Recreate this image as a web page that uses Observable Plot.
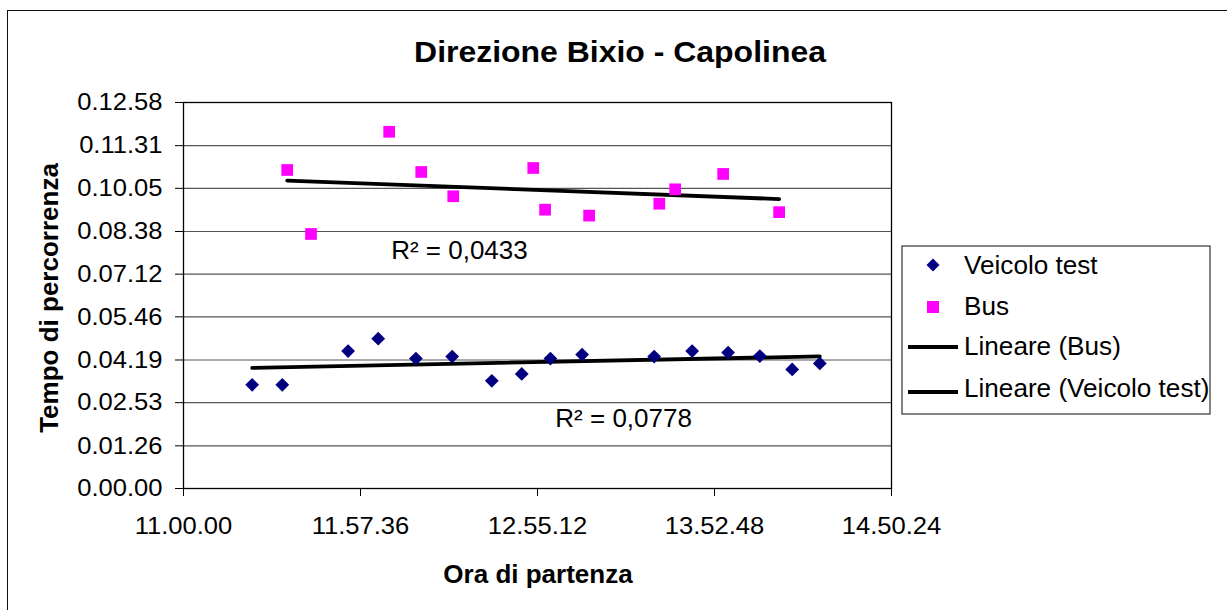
<!DOCTYPE html>
<html>
<head>
<meta charset="utf-8">
<script src="https://cdn.jsdelivr.net/npm/d3@7"></script>
<script src="https://cdn.jsdelivr.net/npm/@observablehq/plot@0.6"></script>
<style>
  html, body { margin: 0; padding: 0; background: #fff; overflow: hidden; }
  #wrap { position: relative; width: 1227px; height: 610px; }
  #frame { position: absolute; left: 7px; top: 10px; width: 1400px; height: 800px; border: 1.5px solid #111; box-sizing: border-box; }
  #wrap svg { position: absolute; left: 0; top: 0; }
</style>
</head>
<body>
<div id="wrap"><div id="frame"></div></div>
<script>
// ---- Data ----
const chartTitle = "Direzione Bixio - Capolinea";
const xTitle = "Ora di partenza";
const yTitle = "Tempo di percorrenza";
const seriesNames = ["Veicolo test", "Bus", "Lineare (Bus)", "Lineare (Veicolo test)"];

const xTickLabels = ["11.00.00", "11.57.36", "12.55.12", "13.52.48", "14.50.24"];
const yTickLabels = ["0.00.00", "0.01.26", "0.02.53", "0.04.19", "0.05.46", "0.07.12", "0.08.38", "0.10.05", "0.11.31", "0.12.58"];

// Veicolo test: departure time, travel time
const testDeparture = ["11:22:21", "11:32:09", "11:53:34", "12:03:22", "12:15:38", "12:27:26", "12:40:20", "12:50:04",
                       "12:59:24", "13:09:43", "13:33:10", "13:45:32", "13:57:14", "14:07:33", "14:18:05", "14:27:04"];
const testTravel    = ["0:03:29", "0:03:29", "0:04:37", "0:05:02", "0:04:22", "0:04:26", "0:03:37", "0:03:51",
                       "0:04:22", "0:04:30", "0:04:26", "0:04:37", "0:04:34", "0:04:27", "0:04:00", "0:04:12"];

// Bus: departure time, travel time
const busDeparture = ["11:33:45", "11:41:30", "12:06:56", "12:17:22", "12:27:47", "12:53:49",
                      "12:57:40", "13:12:00", "13:34:50", "13:40:00", "13:55:37", "14:13:50"];
const busTravel    = ["0:10:42", "0:08:33", "0:11:59", "0:10:38", "0:09:49", "0:10:46",
                      "0:09:22", "0:09:10", "0:09:34", "0:10:03", "0:10:34", "0:09:17"];

// Trendline R² labels (text as in the chart, anchored at a departure time / travel-time level)
const r2Labels = [
  {text: "R² = 0,0433", at: "12:07:34", level: "0:07:43"},
  {text: "R² = 0,0778", at: "13:01:00", level: "0:02:03"}
];

// ---- helpers ----
const toSec = s => s.split(/[:.]/).map(Number).reduce((a, v) => a * 60 + v, 0);
const xTickVals = xTickLabels.map(toSec);
const yTickVals = yTickLabels.map(toSec);

const testData = testDeparture.map((d, i) => ({dep: toSec(d), dur: toSec(testTravel[i])}));
const busData = busDeparture.map((d, i) => ({dep: toSec(d), dur: toSec(busTravel[i])}));

const font = '"Liberation Sans", Arial, Helvetica, sans-serif';
const navy = "#000080", magenta = "#FF00FF";

const chart = Plot.plot({
  width: 1227, height: 610,
  marginLeft: 183, marginRight: 336, marginTop: 102, marginBottom: 122,
  style: {fontFamily: font, fontSize: "24px", color: "#000", background: "transparent", overflow: "visible"},
  x: {domain: [xTickVals[0], xTickVals[xTickVals.length - 1]]},
  y: {domain: [0, yTickVals[yTickVals.length - 1]]},
  marks: [
    Plot.ruleY(yTickVals.slice(1, -1), {stroke: "#555", strokeWidth: 1.2}),
    Plot.frame({stroke: "#000", strokeWidth: 1.3}),
    Plot.axisX(xTickVals, {tickSize: 8, tickPadding: 20, tickFormat: d => xTickLabels[xTickVals.indexOf(d)], label: null, fontSize: 24, stroke: "#000"}),
    Plot.axisY(yTickVals, {tickSize: 8, tickPadding: 13, tickFormat: d => yTickLabels[yTickVals.indexOf(d)], label: null, fontSize: 24, stroke: "#000"}),
    Plot.linearRegressionY(busData, {x: "dep", y: "dur", ci: 0, stroke: "#000", strokeWidth: 3.8}),
    Plot.linearRegressionY(testData, {x: "dep", y: "dur", ci: 0, stroke: "#000", strokeWidth: 3.8}),
    Plot.dot(testData, {x: "dep", y: "dur", symbol: "diamond2", r: 6.2, fill: navy, stroke: "none"}),
    Plot.dot(busData, {x: "dep", y: "dur", symbol: "square", r: 6.6, fill: magenta, stroke: "none"}),
    Plot.text(r2Labels, {x: d => toSec(d.at), y: d => toSec(d.level), text: "text", textAnchor: "start", lineAnchor: "bottom", fontSize: 25, fill: "#000"})
  ]
});
document.getElementById("wrap").appendChild(chart);

// ---- Overlay: title, axis titles, legend ----
const ov = d3.create("svg").attr("width", 1227).attr("height", 610)
  .style("font-family", font).style("pointer-events", "none");

ov.append("text").attr("class", "wide").attr("x", 620).attr("y", 62).attr("text-anchor", "middle")
  .attr("font-size", 30).attr("font-weight", "bold").text(chartTitle);
ov.append("text").attr("x", 538).attr("y", 583).attr("text-anchor", "middle")
  .attr("font-size", 26).attr("font-weight", "bold").text(xTitle);
ov.append("text").attr("transform", "translate(58,298) rotate(-90)").attr("text-anchor", "middle")
  .attr("font-size", 26).attr("font-weight", "bold").text(yTitle);

const lg = ov.append("g");
lg.append("rect").attr("x", 902).attr("y", 246).attr("width", 308).attr("height", 168)
  .attr("fill", "#fff").attr("stroke", "#333").attr("stroke-width", 1.2);
const rows = [265, 307, 347, 392];
const baselines = [274, 315, 355, 397];
lg.append("path").attr("d", d3.symbol(d3.symbolDiamond2, 108)()).attr("transform", `translate(933,${rows[0]})`).attr("fill", navy);
lg.append("rect").attr("x", 927).attr("y", rows[1] - 6).attr("width", 12).attr("height", 12).attr("fill", magenta);
lg.append("line").attr("x1", 908).attr("x2", 958).attr("y1", rows[2]).attr("y2", rows[2]).attr("stroke", "#000").attr("stroke-width", 3.8);
lg.append("line").attr("x1", 908).attr("x2", 958).attr("y1", rows[3]).attr("y2", rows[3]).attr("stroke", "#000").attr("stroke-width", 3.8);
seriesNames.forEach((n, i) => {
  lg.append("text").attr("class", "legend").attr("x", 964).attr("y", baselines[i]).attr("font-size", 25).text(n);
});
document.getElementById("wrap").appendChild(ov.node());

// The reference's glyphs are slightly wider than Liberation Sans: stretch horizontally a little.
function widen(sel, k) {
  sel.each(function () {
    const w = this.getComputedTextLength();
    if (w > 0) d3.select(this).attr("textLength", w * k).attr("lengthAdjust", "spacingAndGlyphs");
  });
}
widen(d3.select(ov.node()).selectAll("text.wide"), 1.065);
widen(d3.select(ov.node()).selectAll("text.legend"), 1.045);
widen(d3.select(chart).selectAll('g[aria-label="x-axis tick label"] text, g[aria-label="y-axis tick label"] text'), 1.065);
widen(d3.select(chart).selectAll('g[aria-label="text"] text'), 1.04);
</script>
</body>
</html>
